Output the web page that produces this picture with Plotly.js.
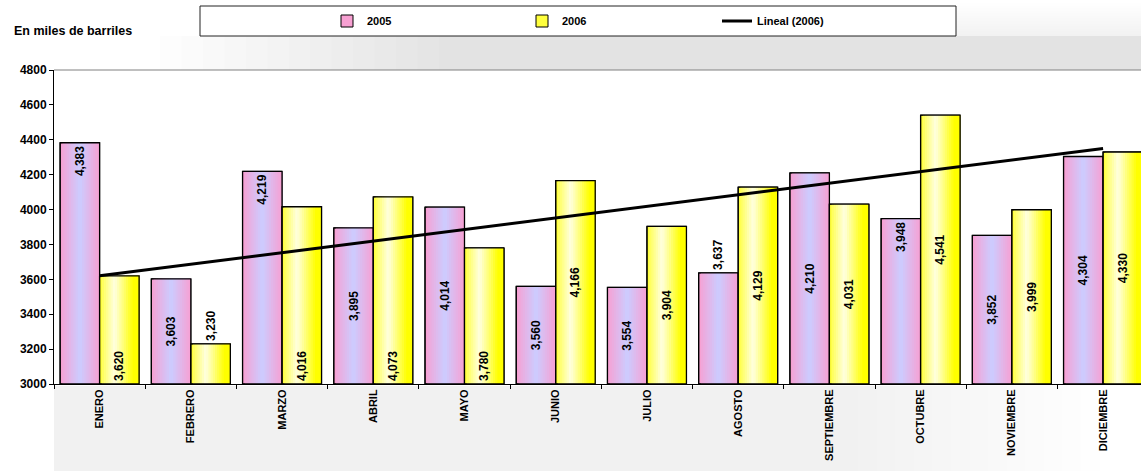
<!DOCTYPE html>
<html>
<head>
<meta charset="utf-8">
<script src="https://cdn.plot.ly/plotly-3.0.1.min.js"></script>
<style>
  html, body { margin: 0; padding: 0; background: #ffffff; }
  #chart { width: 1141px; height: 471px; }
</style>
</head>
<body>
<div id="chart"></div>
<script>
// ---- data ----
const months = ['ENERO', 'FEBRERO', 'MARZO', 'ABRIL', 'MAYO', 'JUNIO', 'JULIO', 'AGOSTO', 'SEPTIEMBRE', 'OCTUBRE', 'NOVIEMBRE', 'DICIEMBRE'];
const values2005 = [4383, 3603, 4219, 3895, 4014, 3560, 3554, 3637, 4210, 3948, 3852, 4304];
const values2006 = [3620, 3230, 4016, 4073, 3780, 4166, 3904, 4129, 4031, 4541, 3999, 4330];
const seriesNames = ['2005', '2006', 'Lineal (2006)'];
const yTitleText = 'En miles de barriles';
const yMin = 3000, yMax = 4800, yStep = 200;

// ---- styles ----
const FONT = 'Arial, "Liberation Sans", sans-serif';
// where each value label sits on its bar (style only)
const labelAnchor2005 = ['end', 'middle', 'end', 'middle', 'middle', 'middle', 'middle', 'outside', 'middle', 'end', 'middle', 'middle'];
const labelAnchor2006 = ['start', 'outside', 'start', 'start', 'start', 'middle', 'middle', 'middle', 'middle', 'middle', 'middle', 'middle'];
const grad2005 = [[0, [247, 160, 210]], [0.5, [204, 204, 255]], [1, [247, 160, 210]]];
const grad2006 = [[0, [255, 255, 60]], [0.38, [255, 255, 225]], [0.85, [255, 255, 0]], [1, [255, 255, 0]]];
const BW = 0.433;      // bar width in category units
const NSLICE = 18;
const LABEL_FONT = { family: FONT, size: 12, color: '#000', weight: 'bold' };

function gradColor(stops, t) {
  for (let i = 0; i < stops.length - 1; i++) {
    const [t0, c0] = stops[i], [t1, c1] = stops[i + 1];
    if (t >= t0 && t <= t1) {
      const f = (t - t0) / (t1 - t0 || 1);
      const c = c0.map((v, k) => Math.round(v + (c1[k] - v) * f));
      return 'rgb(' + c.join(',') + ')';
    }
  }
  const c = stops[stops.length - 1][1];
  return 'rgb(' + c.join(',') + ')';
}

function fmt(v) { return v.toLocaleString('en-US'); }

const traces = [];
function addSeries(name, vals, stops, baseOffset, rank, anchors) {
  const heights = vals.map(v => v - yMin);
  const labels = vals.map(fmt);
  // gradient fill built from overlapping slices
  for (let k = 0; k < NSLICE; k++) {
    const t0 = k / NSLICE;
    const tc = (k + 0.5) / NSLICE;
    traces.push({
      type: 'bar', x: months, y: heights, base: yMin,
      offset: baseOffset + t0 * BW, width: BW * (1 - t0),
      marker: { color: gradColor(stops, k === 0 ? 0 : tc), line: { width: k === 0 ? 1 : 0, color: '#000' } },
      name: name, showlegend: k === 0, legendrank: rank, hoverinfo: 'skip'
    });
  }
  // outline (+ outside labels)
  traces.push({
    type: 'bar', x: months, y: heights, base: yMin,
    offset: baseOffset, width: BW,
    marker: { color: 'rgba(0,0,0,0)', line: { width: 1.3, color: '#000' } },
    text: labels, textposition: anchors.map(a => a === 'outside' ? 'outside' : 'none'),
    textangle: -90, constraintext: 'none', cliponaxis: false,
    textfont: LABEL_FONT, outsidetextfont: LABEL_FONT,
    name: name, showlegend: false
  });
  // inside labels, one transparent layer per anchor
  ['start', 'middle', 'end'].forEach(a => {
    traces.push({
      type: 'bar', x: months, y: heights, base: yMin,
      offset: baseOffset, width: BW,
      marker: { color: 'rgba(0,0,0,0)', line: { width: 0 } },
      text: labels, textposition: anchors.map(b => b === a ? 'inside' : 'none'),
      insidetextanchor: a, textangle: -90, constraintext: 'none',
      textfont: LABEL_FONT, insidetextfont: LABEL_FONT,
      name: name, showlegend: false, hoverinfo: 'skip'
    });
  });
}
addSeries(seriesNames[0], values2005, grad2005, -BW, 1, labelAnchor2005);
addSeries(seriesNames[1], values2006, grad2006, 0, 2, labelAnchor2006);

// linear trend of 2006 (least squares)
const n = values2006.length;
const xs = values2006.map((_, i) => i + 1);
const mx = xs.reduce((a, b) => a + b, 0) / n;
const my = values2006.reduce((a, b) => a + b, 0) / n;
let sxy = 0, sxx = 0;
for (let i = 0; i < n; i++) { sxy += (xs[i] - mx) * (values2006[i] - my); sxx += (xs[i] - mx) ** 2; }
const slope = sxy / sxx, icpt = my - slope * mx;
const trend = xs.map(x => icpt + slope * x);
traces.push({
  type: 'scatter', mode: 'lines', x: months, y: trend,
  line: { color: '#000', width: 3 }, name: seriesNames[2], legendrank: 3, cliponaxis: false
});

// paper coords helpers
const L = 54, R = 1141, T = 70, B = 384;
const px2x = p => (p - L) / (R - L);
const px2y = p => (B - p) / (B - T);

const shapes = [];
function rect(x0, x1, y0, y1, alpha) {
  shapes.push({ type: 'rect', xref: 'paper', yref: 'paper', x0: px2x(x0), x1: px2x(x1), y0: px2y(y1), y1: px2y(y0),
    fillcolor: 'rgba(0,0,0,' + alpha.toFixed(4) + ')', line: { width: 0 }, layer: 'below' });
}
// soft background shading (stacked thin layers -> linear ramps)
const STEPS = 14;
for (let i = 0; i < STEPS; i++) {
  // band between legend and plot, fading in from the left
  rect(160 + (300 * i) / STEPS, 1141, 36, 70, 0.09 / STEPS);
  // right of the legend box, fading upward
  rect(956, 1141, 36 - (36 * i) / STEPS, 36, 0.07 / STEPS);
  // below the x axis, fading toward the right
  rect(54, 1100 - (260 * i) / STEPS, 386, 471, 0.045 / STEPS);
}
// legend box
shapes.push({ type: 'rect', xref: 'paper', yref: 'paper', x0: px2x(200), x1: px2x(956), y0: px2y(36), y1: px2y(6), fillcolor: '#ffffff', line: { width: 1, color: '#222' }, layer: 'below' });
// top border of plot area
shapes.push({ type: 'line', xref: 'paper', yref: 'paper', x0: 0, x1: 1, y0: 1, y1: 1, line: { width: 1, color: '#808080' } });

const layout = {
  width: 1141, height: 471,
  margin: { l: L, r: 0, t: T, b: 471 - B },
  paper_bgcolor: '#ffffff', plot_bgcolor: '#ffffff',
  barmode: 'overlay',
  font: { family: FONT, color: '#000' },
  showlegend: true,
  legend: {
    orientation: 'h', xref: 'container', yref: 'container',
    x: 327 / 1141, xanchor: 'left', y: 1 - 21 / 471, yanchor: 'middle',
    bgcolor: 'rgba(0,0,0,0)', borderwidth: 0,
    font: { family: FONT, size: 11, color: '#000', weight: 'bold' },
    entrywidth: 150, traceorder: 'normal'
  },
  xaxis: {
    type: 'category', range: [-0.5, 11.416], fixedrange: true,
    tickangle: -90, tickfont: { family: FONT, size: 11, color: '#000', weight: 'bold' },
    ticks: 'outside', tickson: 'boundaries', ticklen: 4, tickcolor: '#000',
    showline: true, linecolor: '#000', linewidth: 1, showgrid: false, zeroline: false
  },
  yaxis: {
    range: [yMin, yMax], dtick: yStep, fixedrange: true,
    tickfont: { family: FONT, size: 12, color: '#000', weight: 'bold' },
    ticks: 'outside', ticklen: 4, tickcolor: '#000',
    showline: true, linecolor: '#000', linewidth: 1, showgrid: false, zeroline: false
  },
  shapes: shapes,
  annotations: [
    { text: yTitleText, xref: 'paper', yref: 'paper', x: px2x(12), y: px2y(31), xanchor: 'left', yanchor: 'middle', showarrow: false,
      font: { family: FONT, size: 12.5, color: '#000', weight: 'bold' } }
  ]
};

Plotly.newPlot('chart', traces, layout, { displayModeBar: false, staticPlot: true });
</script>
</body>
</html>
